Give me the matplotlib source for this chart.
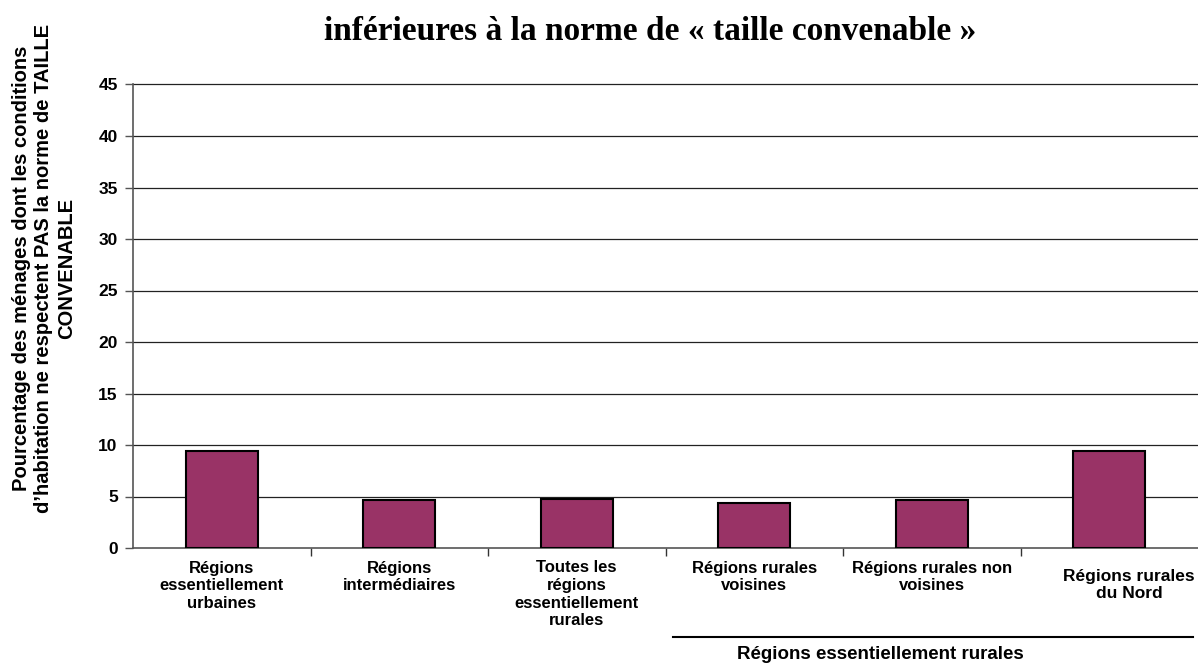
import matplotlib
matplotlib.use('Agg')
import matplotlib.pyplot as plt
import matplotlib.transforms as mtransforms
import numpy as np

matplotlib.rc('font', family='Liberation Sans', weight='bold')

# données
categories = ["Régions\nessentiellement\nurbaines",
              "Régions\nintermédiaires",
              "Toutes les\nrégions\nessentiellement\nrurales",
              "Régions rurales\nvoisines",
              "Régions rurales non\nvoisines",
              "Régions rurales\ndu Nord"]
valeurs = [9.4, 4.7, 4.8, 4.4, 4.7, 9.4]
yticks = [0, 5, 10, 15, 20, 25, 30, 35, 40, 45]

titre = "inférieures à la norme de « taille convenable »"
ylabel = ("Pourcentage des ménages dont les conditions\n"
          "d\u2019habitation ne respectent PAS la norme de TAILLE\n"
          "CONVENABLE")
groupe = "Régions essentiellement rurales"

fig = plt.figure(figsize=(11.98, 6.65), dpi=100)
ax = fig.add_axes([133/1198, 117/665, 1 - 133/1198, 463.5/665])

x = np.arange(len(valeurs))
ax.bar(x, valeurs, width=0.405, color='#993366', edgecolor='black', linewidth=1.5, zorder=3)

ax.set_xlim(-0.5, len(valeurs) - 0.5)
ax.set_ylim(0, 45)
ax.set_yticks(yticks)
ax.set_yticklabels([str(v) for v in yticks], fontsize=12.5, fontweight='bold')
ax.tick_params(axis='y', length=6, width=1, color='#555555', pad=5)

# grille (tracée à la main pour que la ligne de 45 ne soit pas coupée)
for v in yticks[1:]:
    ax.axhline(v, color='#222222', linewidth=0.9, zorder=0, clip_on=False)

# ticks x : séparateurs entre catégories
ax.set_xticks(x)
ax.set_xticklabels(categories, fontsize=12, fontweight='bold', linespacing=1.22)
ax.tick_params(axis='x', length=0, pad=9)
ax.set_xticks(np.arange(0.5, len(valeurs) - 0.5, 1), minor=True)
ax.tick_params(axis='x', which='minor', length=6, width=1, color='#333333')
lab = ax.get_xticklabels()[-1]
lab.set_fontsize(12.5)
lab.set_transform(lab.get_transform() + mtransforms.ScaledTranslation(0.2, -0.08, fig.dpi_scale_trans))

for s in ['top', 'right']:
    ax.spines[s].set_visible(False)
ax.spines['left'].set_color('#555555')
ax.spines['bottom'].set_color('#555555')
ax.spines['left'].set_linewidth(1.2)
ax.spines['bottom'].set_linewidth(1.2)

# accolade "Régions essentiellement rurales"
trans = mtransforms.blended_transform_factory(ax.transData, ax.transAxes)
ax.plot([2.54, 5.47], [-0.192, -0.192], color='black', linewidth=1.5,
        transform=trans, clip_on=False)
ax.text(3.71, -0.212, groupe, transform=trans, ha='center', va='top',
        fontsize=13.5, fontweight='bold')

# titre (première ligne hors cadre)
fig.text(650/1198, 1 - 32/665, titre, ha='center', va='center',
         fontsize=24, fontweight='bold', family='Liberation Serif')

fig.text(44/1198, 1 - 268/665, ylabel, rotation=90, ha='center', va='center',
         multialignment='center', fontsize=14.5, fontweight='bold', linespacing=1.25)

fig.savefig('out.png', dpi=100)
